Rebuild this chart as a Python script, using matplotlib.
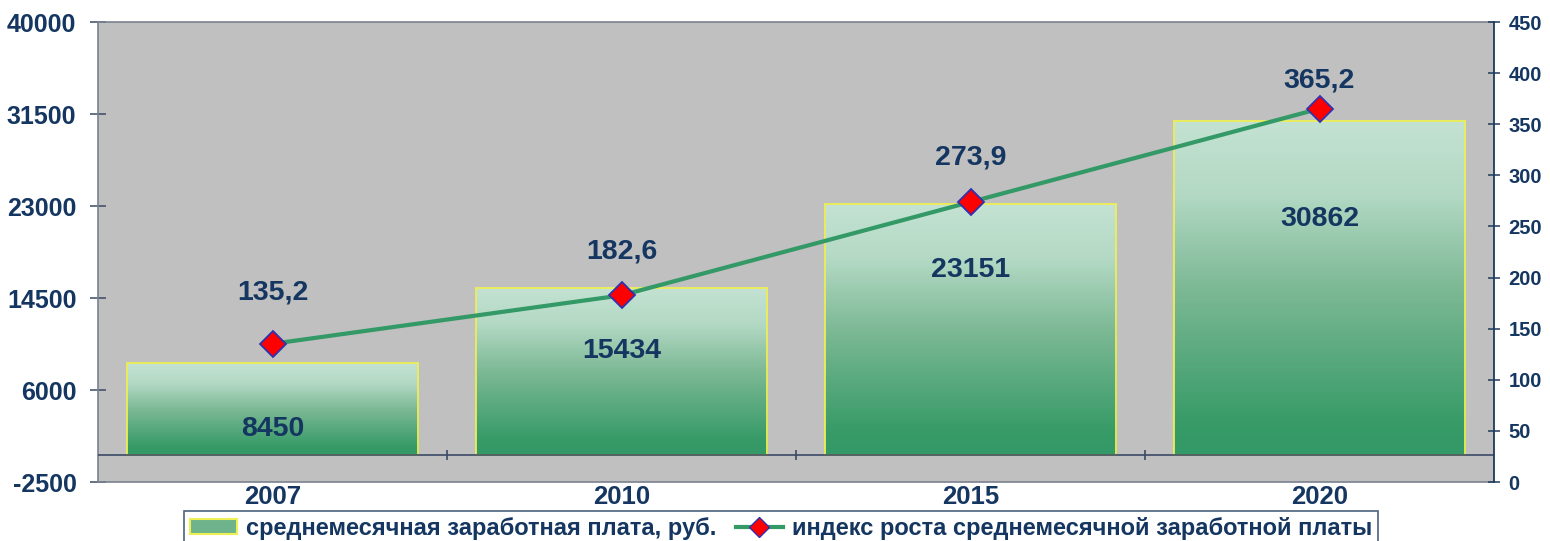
import numpy as np
import matplotlib.pyplot as plt
from matplotlib.colors import LinearSegmentedColormap
from matplotlib.patches import Patch
from matplotlib.lines import Line2D

years = ['2007', '2010', '2015', '2020']
salary = [8450, 15434, 23151, 30862]
index = [135.2, 182.6, 273.9, 365.2]
index_text = ['135,2', '182,6', '273,9', '365,2']

left_ticks = [-2500, 6000, 14500, 23000, 31500, 40000]
right_ticks = list(range(0, 451, 50))

navy = '#143660'
green = '#339966'

plt.rcParams['font.family'] = ['Liberation Sans', 'DejaVu Sans']
plt.rcParams['font.weight'] = 'bold'

fig = plt.figure(figsize=(15.5, 5.41), dpi=100)
ax = fig.add_axes([98 / 1550, 59 / 541, (1494 - 98) / 1550, 460 / 541])
ax.set_facecolor('#C0C0C0')

cmap = LinearSegmentedColormap.from_list(
    'g', [(0, '#339966'), (0.1, '#389B68'), (0.5, '#7DB995'), (0.78, '#B3D9C4'), (1, '#C4E2D3')])
grad = np.linspace(0, 1, 256).reshape(-1, 1)
x = np.arange(len(years))
w = 0.835
for xi, v in zip(x, salary):
    ax.imshow(grad, extent=[xi - w / 2, xi + w / 2, 0, v], origin='lower',
              aspect='auto', cmap=cmap, zorder=2)
ax.bar(x, salary, width=w, facecolor='none', edgecolor='#EEEE55', lw=1.3, zorder=3)

# value labels inside bars (pixel offsets below bar top)
bar_off = [66, 63, 66, 98]
for xi, v, off in zip(x, salary, bar_off):
    ax.annotate(str(v), (xi, v), xytext=(0, -off), textcoords='offset pixels',
                ha='center', va='center', fontsize=20.5, color=navy,
                fontweight='bold', zorder=6)

ax.axhline(0, color='#3A4A66', lw=1.2, zorder=4)
ax.vlines(x[:-1] + 0.5, -500, 500, color='#3A4A66', lw=1.2, zorder=4)

ax.set_xlim(-0.5, len(years) - 0.5)
ax.set_ylim(-2500, 40000)
ax.set_yticks(left_ticks)
ax.set_yticklabels([str(t) for t in left_ticks])
ax.set_xticks(x)
ax.set_xticklabels(years)
ax.tick_params(axis='y', direction='inout', length=12, width=1.1, color='#3A4A66',
               labelsize=18, labelcolor=navy, pad=9.5)
ax.tick_params(axis='x', length=0, labelsize=18.5, labelcolor=navy, pad=2)
for s in ['left', 'top', 'bottom']:
    ax.spines[s].set_color('#7A8290')
    ax.spines[s].set_linewidth(1.2)
ax.spines['right'].set_visible(False)

ax2 = ax.twinx()
ax2.plot(x, index, color=green, lw=3, marker='D', ms=13, mfc='red',
         mec='#3030B0', mew=1.3, zorder=5)
line_off = [51, 44, 45, 28]
for xi, v, t, off in zip(x, index, index_text, line_off):
    ax2.annotate(t, (xi, v), xytext=(0, off), textcoords='offset pixels',
                 ha='center', va='center', fontsize=20.5, color=navy,
                 fontweight='bold')
ax2.set_ylim(0, 450)
ax2.set_yticks(right_ticks)
ax2.tick_params(axis='y', direction='inout', length=9, width=1.1, color='#1F3A5F',
                labelsize=14.5, labelcolor=navy, pad=6)
for s in ['left', 'top', 'bottom']:
    ax2.spines[s].set_visible(False)
ax2.spines['right'].set_color('#1F3A5F')
ax2.spines['right'].set_linewidth(1.3)

handles = [Patch(facecolor='#6DB38C', edgecolor='#EEEE55', lw=1.5),
           Line2D([], [], color=green, lw=3, marker='D', ms=10, mfc='red', mec='#3030B0')]
labels = ['среднемесячная заработная плата, руб.',
          'индекс роста среднемесячной заработной платы']
leg = fig.legend(handles, labels, loc='upper center', bbox_to_anchor=(781 / 1550, 1 - 511 / 541),
                 ncol=2, frameon=True, fancybox=False, edgecolor='#1F3A5F',
                 prop={'family': ['Liberation Sans Narrow', 'Liberation Sans', 'DejaVu Sans'],
                       'weight': 'bold', 'size': 17},
                 labelcolor=navy, columnspacing=0.8, handletextpad=0.4,
                 handlelength=2.0, handleheight=0.6, borderpad=0.25, borderaxespad=0)
leg.get_frame().set_linewidth(1.2)

fig.savefig('out.png', dpi=100)
